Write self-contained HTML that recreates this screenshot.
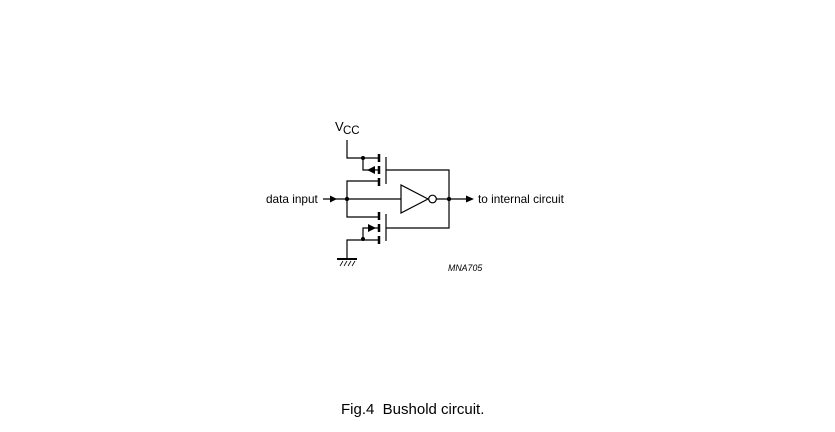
<!DOCTYPE html>
<html><head><style>
html,body{margin:0;padding:0;background:#fff;}
svg{display:block;}
text{font-family:"Liberation Sans",Arial,sans-serif;fill:#000;white-space:pre;}
</style></head><body>
<svg width="835" height="432" viewBox="0 0 835 432">
<g stroke="#000" stroke-width="1.2" fill="none">
<polyline points="347,140 347,158 379,158"/>
<polyline points="363,158 363,170 379,170"/>
<g stroke-width="2.5">
<line x1="379" y1="154" x2="379" y2="162"/>
<line x1="379" y1="166" x2="379" y2="174"/>
<line x1="379" y1="178" x2="379" y2="186"/>
<line x1="379" y1="212" x2="379" y2="220"/>
<line x1="379" y1="224" x2="379" y2="232"/>
<line x1="379" y1="236" x2="379" y2="244"/>
</g>
<line x1="386" y1="157" x2="386" y2="184"/>
<line x1="386" y1="214" x2="386" y2="241"/>
<polyline points="386,170 449,170 449,228 386,228"/>
<polyline points="379,181 347,181 347,217 379,217"/>
<polyline points="379,228 363,228 363,239"/>
<polyline points="379,240 347,240 347,259"/>
<line x1="323" y1="199" x2="401" y2="199"/>
<polygon points="401,185 401,213 428,199"/>
<circle cx="432.5" cy="199" r="3.8" fill="#fff"/>
<line x1="436" y1="199" x2="468" y2="199"/>
<line x1="337" y1="259" x2="357" y2="259" stroke-width="2"/>
<g stroke-width="0.8">
<line x1="340" y1="266" x2="343" y2="261"/><line x1="344" y1="266" x2="347" y2="261"/><line x1="348" y1="266" x2="351" y2="261"/><line x1="352" y1="266" x2="355" y2="261"/>
</g>
</g>
<g fill="#000">
<circle cx="363" cy="158" r="2"/>
<circle cx="347" cy="199" r="2.2"/>
<circle cx="449" cy="199" r="2.2"/>
<circle cx="363" cy="239" r="2"/>
<polygon points="367,170 375,166 375,174"/>
<polygon points="376,228 368,224 368,232"/>
<polygon points="337,199 330,195.5 330,202.5"/>
<polygon points="474,199 466,195.5 466,202.5"/>
</g>
<text x="335" y="131" font-size="13">V</text>
<text x="343" y="134" font-size="11.5">CC</text>
<text x="266" y="203" font-size="11.8">data input</text>
<text x="478" y="203" font-size="11.8">to internal circuit</text>
<text x="448" y="271" font-size="8.8" font-style="italic">MNA705</text>
<text x="341" y="414" font-size="15">Fig.4&#160;&#160;Bushold circuit.</text>
</svg>
</body></html>
